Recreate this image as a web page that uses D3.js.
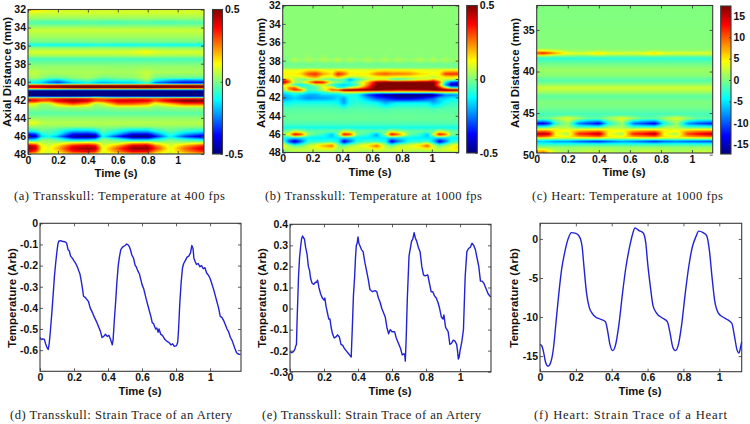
<!DOCTYPE html>
<html><head><meta charset="utf-8">
<style>html,body{margin:0;padding:0;background:#fff}svg{display:block}</style>
<script src="https://cdnjs.cloudflare.com/ajax/libs/d3/7.8.5/d3.min.js"></script>
</head><body>
<svg id="c" width="750" height="424"><defs><filter id="soft" x="-2%" y="-2%" width="104%" height="104%"><feGaussianBlur stdDeviation="0.55"/></filter></defs></svg>
<script>
// Heatmap A
const timesA=[0,.05,.09,.14,.2,.3,.4,.45,.5,.6,.7,.8,.85,.95,1.05,1.18];
const depthsA=[32,32.4,33,33.44,33.9,34.3,35,35.6,35.95,36.25,36.7,37.1,37.5,38.2,39,39.6,39.95,40.2,40.32,40.45,40.72,40.85,41,41.3,41.6,41.75,41.9,42.15,42.5,42.9,43.5,44,44.6,45,45.5,45.85,46.1,46.45,46.85,47.15,47.45,47.8,48];
const valuesA=[
[.17,.17,.14,.11,.1,.09,.09,.09,.09,.09,.09,.09,.09,.09,.09,.09],
[.085,.085,.08,.08,.08,.08,.08,.08,.08,.08,.08,.08,.08,.08,.08,.08],
[.025,.025,.025,.025,.025,.025,.025,.025,.025,.025,.025,.025,.025,.025,.025,.025],
[-.05,-.05,-.06,-.06,-.06,-.06,-.05,-.05,-.06,-.06,-.05,-.05,-.06,-.06,-.05,-.05],
[.02,.02,.02,.02,.02,.02,.02,.02,.02,.02,.02,.02,.02,.02,.02,.02],
[.075,.075,.075,.075,.075,.075,.075,.075,.075,.075,.075,.075,.075,.075,.075,.075],
[.035,.035,.035,.035,.035,.035,.035,.035,.035,.035,.035,.035,.035,.035,.035,.035],
[-.01,-.01,-.01,-.01,-.01,-.01,-.01,-.01,-.01,-.01,-.01,-.01,-.01,-.01,-.01,-.01],
[-.12,-.11,-.11,-.12,-.12,-.12,-.12,-.11,-.11,-.12,-.12,-.11,-.11,-.12,-.12,-.12],
[.01,.01,.01,.01,.01,.01,.01,.01,.01,.01,.01,.01,.01,.01,.01,.01],
[.09,.09,.09,.09,.09,.09,.09,.09,.09,.09,.1,.13,.1,.09,.09,.09],
[.045,.045,.045,.045,.045,.045,.045,.045,.045,.045,.05,.06,.05,.045,.045,.045],
[-.06,-.06,-.06,-.06,-.06,-.06,-.06,-.06,-.06,-.06,-.06,-.06,-.06,-.06,-.06,-.06],
[.01,.01,.01,.01,.01,.01,.01,.01,.01,.01,.01,.01,.01,.01,.01,.01],
[.05,.07,.045,.045,.045,.045,.045,.045,.045,.04,.04,.07,.045,.045,.045,.045],
[.02,.04,.01,-.02,-.02,.01,.03,.01,-.02,.0,.01,.06,-.02,-.03,-.03,-.03],
[-.08,-.08,-.12,-.2,-.25,-.1,-.05,-.1,-.14,-.1,-.1,.02,-.15,-.25,-.3,-.28],
[-.16,-.15,-.18,-.28,-.34,-.2,-.15,-.2,-.22,-.2,-.2,-.1,-.3,-.36,-.4,-.4],
[.1,.1,.1,.1,.1,.1,.1,.1,.1,.1,.1,.1,.1,.1,.1,.1],
[.45,.45,.46,.46,.48,.52,.56,.56,.52,.55,.56,.58,.55,.52,.52,.52],
[.38,.38,.4,.45,.45,.5,.55,.55,.5,.5,.52,.55,.5,.46,.46,.46],
[.02,.02,.02,.02,.02,.02,.02,.02,.02,.02,.02,.02,.02,.02,.02,.02],
[-.46,-.46,-.46,-.46,-.46,-.46,-.46,-.46,-.46,-.46,-.46,-.46,-.46,-.46,-.46,-.46],
[-.56,-.56,-.56,-.56,-.56,-.56,-.56,-.56,-.56,-.56,-.56,-.56,-.56,-.56,-.56,-.56],
[-.5,-.5,-.52,-.52,-.52,-.52,-.52,-.52,-.52,-.52,-.52,-.52,-.52,-.52,-.52,-.52],
[-.1,-.1,-.12,-.12,-.12,-.12,-.1,-.02,-.08,-.12,-.12,-.12,-.12,-.12,-.12,-.12],
[.32,.32,.3,.34,.34,.38,.36,.32,.28,.3,.32,.32,.3,.34,.36,.38],
[.38,.38,.32,.3,.42,.48,.42,.3,.32,.42,.42,.4,.3,.44,.52,.52],
[.14,.1,.02,.04,.18,.3,.2,.03,.08,.28,.28,.22,.08,.18,.3,.3],
[.03,.03,.01,.01,.025,.03,.03,.01,.01,.035,.035,.03,.01,.025,.03,.03],
[-.04,-.04,-.04,-.04,-.04,-.04,-.04,-.04,-.04,-.04,-.04,-.04,-.04,-.04,-.04,-.04],
[.01,.01,.01,.01,.01,.01,.01,.01,.01,.01,.01,.01,.01,.01,.01,.01],
[.11,.11,.065,.055,.055,.055,.055,.055,.055,.055,.055,.055,.055,.055,.055,.055],
[.03,.03,.02,.02,.02,.02,.02,.02,.02,.02,.02,.02,.02,.02,.02,.02],
[-.12,-.08,-.03,-.04,-.08,-.18,-.18,-.14,-.03,-.1,-.18,-.18,-.1,-.03,-.08,-.12],
[-.36,-.32,-.12,-.06,-.12,-.36,-.38,-.34,-.07,-.2,-.38,-.38,-.26,-.07,-.2,-.3],
[-.46,-.42,-.17,-.12,-.22,-.48,-.52,-.48,-.12,-.34,-.52,-.52,-.38,-.12,-.32,-.46],
[-.2,-.16,.0,.0,-.05,-.2,-.2,-.16,.02,-.06,-.2,-.2,-.12,-.02,-.08,-.16],
[.2,.16,.07,.05,.07,.16,.2,.16,.05,.07,.2,.22,.1,.05,.07,.14],
[.44,.4,.12,.08,.16,.36,.42,.38,.08,.22,.42,.44,.28,.08,.22,.36],
[.48,.42,.14,.1,.2,.42,.48,.44,.1,.3,.48,.48,.34,.1,.28,.44],
[.4,.3,.11,.09,.15,.34,.38,.32,.09,.24,.38,.36,.22,.09,.22,.34],
[.2,.16,.09,.07,.11,.2,.22,.18,.07,.14,.22,.22,.13,.07,.14,.2]];
// Heatmap B
const timesB=[0,.04,.08,.12,.17,.22,.27,.33,.37,.41,.45,.5,.57,.63,.69,.73,.77,.85,.92,.97,1.01,1.05,1.09,1.13,1.18];
const depthsB=[32,37.2,37.6,37.95,38.4,38.8,38.95,39.45,39.85,40.05,40.35,40.65,40.95,41.2,41.45,41.7,42.1,42.6,43.3,44.2,44.9,45.3,45.7,46.05,46.4,46.8,47.25,47.7,48];
const valuesB=[
[.01,.01,.01,.01,.01,.01,.01,.01,.01,.01,.01,.01,.01,.01,.01,.01,.01,.01,.01,.01,.01,.01,.01,.01,.01],
[.01,.01,.01,.01,.01,.01,.01,.01,.01,.01,.01,.01,.01,.01,.01,.01,.01,.01,.01,.01,.01,.01,.01,.01,.01],
[.0,.0,.02,.0,.03,.0,.03,.0,.02,.0,.02,.0,.02,.0,.02,.0,.02,.0,.02,.0,.02,.0,.02,.0,.02],
[.0,.01,.05,.02,.05,.02,.05,.03,.06,.02,.05,.02,.05,.02,.05,.02,.05,.02,.05,.02,.06,.02,.05,.02,.04],
[-.02,-.02,-.02,-.02,-.02,-.02,-.02,-.02,-.02,-.02,-.02,-.02,-.02,-.02,-.02,-.02,-.02,-.02,-.02,-.02,-.02,-.02,-.02,-.02,-.02],
[.0,.0,.0,.0,.0,.0,.0,.0,.0,.0,.0,.0,.0,.0,.0,.0,.0,.0,.0,.0,.0,.0,.0,.0,.0],
[.09,.09,.09,.09,.11,.11,.09,.09,.09,.09,.09,.09,.08,.08,.09,.09,.09,.09,.09,.09,.09,.09,.09,.09,.09],
[.14,.14,.14,.16,.3,.34,.22,.14,.36,.28,.14,.14,.14,.26,.3,.26,.26,.24,.16,.14,.12,.14,.32,.34,.34],
[.1,.08,.08,.08,.16,.22,.08,.1,.18,.08,.04,.04,.08,.1,.1,.1,.08,.08,.08,.08,.04,.1,.12,.12,.08],
[.3,.2,.03,-.02,-.02,0,-.02,-.08,-.05,-.05,-.25,-.1,.04,.08,.08,-.08,-.1,-.04,.08,.08,.2,.08,.08,.08,.04],
[.48,.3,.05,.04,.2,.42,.38,.08,.02,-.04,-.1,.04,.2,.45,.5,.5,.5,.5,.48,.5,.5,.3,-.1,-.3,-.35],
[.2,.05,-.07,-.14,-.07,.04,.1,-.08,-.14,-.18,-.14,-.04,.25,.52,.55,.58,.58,.58,.58,.58,.5,.2,-.2,-.45,-.45],
[0,.25,.3,.02,-.07,-.07,.1,.15,-.1,-.08,.05,.15,.35,.55,.6,.6,.6,.6,.6,.6,.55,.4,.15,-.1,-.1],
[-.05,.2,.35,.3,-.07,-.04,.05,.3,.3,.5,.52,.5,.5,.5,.45,.45,.4,.42,.42,.45,.5,.52,.55,.55,.52],
[-.12,-.08,-.04,.0,-.12,-.12,-.08,0,0,.08,.08,.08,.04,.0,.04,.04,.04,.04,.04,.04,.04,.08,.08,.08,.08],
[-.2,-.16,-.12,-.16,-.2,-.2,-.16,-.16,-.15,-.1,-.1,-.12,-.32,-.42,-.5,-.5,-.55,-.55,-.55,-.55,-.5,-.38,-.26,-.26,-.22],
[-.24,-.2,-.17,-.2,-.24,-.22,-.22,-.2,-.16,-.22,-.1,-.1,-.2,-.3,-.33,-.38,-.42,-.42,-.38,-.33,-.28,-.18,-.17,-.13,-.13],
[-.12,-.12,-.1,-.1,-.1,-.1,-.1,-.1,-.12,-.22,-.1,-.08,-.1,-.12,-.2,-.16,-.13,-.13,-.13,-.13,-.2,-.16,-.1,-.08,-.08],
[-.04,-.04,-.04,-.04,-.04,-.04,-.04,-.04,-.04,-.05,-.04,-.04,-.04,-.04,-.05,-.04,-.04,-.04,-.04,-.04,-.05,-.04,-.04,-.04,-.04],
[-.02,-.02,-.02,-.02,-.02,-.02,-.02,-.02,-.02,-.02,-.02,-.02,-.02,-.02,-.02,-.02,-.02,-.02,-.02,-.02,-.02,-.02,-.02,-.02,-.02],
[-.05,-.05,-.05,-.05,-.05,-.05,-.05,-.05,-.05,-.05,-.05,-.05,-.05,-.05,-.05,-.05,-.05,-.05,-.05,-.05,-.05,-.05,-.05,-.05,-.05],
[-.11,-.11,-.11,-.11,-.11,-.11,-.11,-.11,-.11,-.11,-.11,-.11,-.11,-.11,-.11,-.11,-.11,-.11,-.11,-.11,-.11,-.11,-.11,-.11,-.11],
[-.02,0,.08,.04,-.02,-.02,-.02,-.02,-.02,.08,.05,-.02,-.02,-.02,-.02,.08,.04,-.02,-.02,-.02,-.02,.08,.04,-.02,-.02],
[.04,.12,.42,.35,.02,-.04,-.08,-.2,-.02,.4,.35,-.02,-.08,-.22,.04,.42,.3,-.02,-.08,-.2,.08,.4,.3,.0,-.04],
[-.12,-.13,-.14,-.14,-.13,-.14,-.14,-.15,-.14,-.14,-.14,-.13,-.14,-.15,-.14,-.14,-.14,-.13,-.14,-.15,-.14,-.14,-.14,-.13,-.13],
[-.02,-.3,-.45,-.3,-.1,-.08,-.08,-.08,-.12,-.42,-.28,-.1,-.06,-.08,-.12,-.42,-.28,-.1,-.08,-.06,-.18,-.42,-.28,-.1,-.08],
[.16,.04,-.04,-.02,.06,.12,.2,.28,.02,-.04,.04,.08,.15,.28,.04,-.02,.06,.1,.17,.3,.08,-.02,.04,.1,.17],
[.02,.06,.08,.08,.08,.08,.08,.08,.04,.08,.1,.08,.06,.1,.08,.08,.1,.08,.06,.08,.08,.08,.1,.12,.15],
[-.02,.01,.02,.02,.02,.02,.02,.02,.01,.02,.02,.02,.02,.02,.02,.02,.02,.02,.02,.02,.02,.02,.02,.02,.02]];
// Heatmap C
const timesC=[0,.04,.08,.12,.2,.27,.33,.4,.46,.55,.62,.68,.76,.82,.9,.97,1.03,1.14];
const depthsC=[32,37.2,37.55,37.82,38.1,38.4,39,39.8,40.5,41.1,41.6,42,42.5,43,43.8,44.5,45.2,45.7,46.3,46.8,47.2,47.55,47.9,48.15,48.45,48.8,49.2,49.6,49.85];
const valuesC=[
[0,0,0,0,0,0,0,0,0,0,0,0,0,0,0,0,0,0],
[.2,.2,.2,.2,.2,.2,.2,.2,.2,.2,.2,.2,.2,.2,.2,.2,.2,.2],
[5,5,4,3,1.5,1,1,1.5,1,1,1,1,1.5,1,1,1,1,1],
[11,13,11,8,4,3.5,4,6,4,3.5,3.5,4,6,4,3.5,3.5,3.5,3.5],
[3,3,2,1,1,.5,.5,1,.5,.5,.5,.5,1,.5,.5,.5,.5,.5],
[-3,-3,-3,-3,-3,-3,-3,-3,-3,-3,-3,-3,-3,-3,-3,-3,-3,-3],
[-.8,-.8,-.8,-.8,-.8,-.8,-.8,-.8,-.8,-.8,-.8,-.8,-.8,-.8,-.8,-.8,-.8,-.8],
[1,1,1,1,1,1,1,1,1,1,1,1,1,1,1,1,1,1],
[.4,.4,.4,.4,.4,.4,.4,.4,.4,.4,.4,.4,.4,.4,.4,.4,.4,.4],
[-1.6,-1.6,-1.6,-1.6,-1.6,-1.6,-1.6,-1.6,-1.6,-1.6,-1.6,-1.6,-1.6,-1.6,-1.6,-1.6,-1.6,-1.6],
[.5,.5,.5,.5,.5,.5,.5,.5,.5,.5,.5,.5,.5,.5,.5,.5,.5,.5],
[2.8,2.8,2.8,2.8,2.8,2.8,2.8,2.8,2.8,2.8,2.8,2.8,2.8,2.8,2.8,2.8,2.8,2.8],
[1.2,1.2,1.2,1.2,1.2,1.2,1.2,1.2,1.2,1.2,1.2,1.2,1.2,1.2,1.2,1.2,1.2,1.2],
[-1.2,-1.2,-1.2,-1.2,-1.2,-1.2,-1.2,-1.2,-1.2,-1.2,-1.2,-1.2,-1.2,-1.2,-1.2,-1.2,-1.2,-1.2],
[.1,.1,.1,.1,.1,.1,.1,.1,.1,.1,.1,.1,.1,.1,.1,.1,.1,.1],
[-.5,-.5,-.5,-.5,-.5,-.5,-.5,-.5,-.5,-.5,-.5,-.5,-.5,-.5,-.5,-.5,-.5,-.5],
[-2,-2,-2,-2,-2,-2,-2,-2,-2,-2,-2,-2,-2,-2,-2,-2,-2,-2],
[-.5,-.5,-.5,1,3.5,1,-1,-1,1,3.5,1,-1,-1,1,3.5,1,-1,-1],
[-13,-14,-11,-3,1,-9,-11,-13.5,-4,1,-9,-11,-13.5,-4,1,-8,-10,-12.5],
[-1,-1,0,2,1.5,-1,-1,-1,1.5,1.5,-1,-1,-1,1.5,1.5,-1,-1,-1],
[8,9,8,5,4.5,7,8,8.5,5,4.5,7,8,8.5,5,4.5,7,8,8.5],
[15,16,14,4,1,12,13,16,4,1,12,13,16,4,1,11,13,16],
[9,9.5,8,5,4.5,7,8,9,5,4.5,7,8,9,5,4.5,7,8,9],
[.8,.8,.8,.8,.8,.8,.8,.8,.8,.8,.8,.8,.8,.8,.8,.8,.8,.8],
[-7,-6,-7,-8,-8,-10,-11,-12,-10,-8,-9,-10,-12,-10,-9,-10,-10,-11],
[-3,-3,-3,-3,-3,-3,-3,-3,-3,-3,-3,-3,-3,-3,-3,-3,-3,-3],
[1,1,1,1,1,1,1,1,1,1,1,1,1,1,1,1,1,1],
[5,7,4,2,1,1.5,2,2,2,1,1.5,2,2,2,1,1.5,2,2],
[7,10,5,3,2,2,3,3,2,2,2,3,3,2,2,2,3,3]];
// Traces
const timeD=[0,.008,.016,.025,.033,.04,.048,.054,.06,.066,.07,.078,.085,.092,.1,.105,.11,.12,.13,.145,.155,.16,.165,.172,.18,.19,.2,.21,.22,.228,.235,.242,.25,.256,.265,.275,.285,.295,.31,.32,.335,.345,.355,.365,.375,.385,.395,.405,.415,.425,.43,.437,.445,.452,.46,.467,.475,.483,.49,.5,.51,.518,.525,.532,.54,.55,.56,.566,.575,.585,.6,.61,.625,.635,.645,.652,.66,.668,.68,.687,.695,.7,.71,.72,.735,.75,.76,.77,.78,.79,.8,.805,.81,.815,.822,.83,.838,.845,.855,.865,.875,.885,.893,.9,.905,.912,.92,.93,.94,.95,.96,.97,.98,.99,1,1.01,1.02,1.03,1.04,1.05,1.06,1.07,1.08,1.09,1.1,1.11,1.12,1.13,1.145,1.155,1.16,1.17,1.18];
const tempD=[-.54,-.55,-.547,-.548,-.57,-.585,-.597,-.57,-.52,-.46,-.42,-.33,-.25,-.19,-.13,-.1,-.085,-.082,-.085,-.087,-.092,-.105,-.125,-.13,-.155,-.165,-.178,-.19,-.207,-.225,-.24,-.27,-.31,-.345,-.35,-.36,-.37,-.4,-.425,-.445,-.47,-.49,-.51,-.54,-.535,-.525,-.535,-.53,-.55,-.575,-.55,-.46,-.37,-.28,-.2,-.16,-.125,-.115,-.11,-.105,-.098,-.102,-.11,-.125,-.15,-.165,-.2,-.205,-.225,-.24,-.29,-.31,-.36,-.39,-.42,-.44,-.47,-.475,-.5,-.495,-.515,-.5,-.525,-.53,-.55,-.56,-.565,-.575,-.57,-.582,-.58,-.575,-.56,-.5,-.38,-.28,-.21,-.19,-.175,-.16,-.155,-.14,-.105,-.12,-.165,-.18,-.195,-.19,-.205,-.2,-.215,-.21,-.235,-.245,-.26,-.285,-.31,-.34,-.37,-.4,-.44,-.445,-.46,-.48,-.5,-.515,-.54,-.555,-.59,-.61,-.615,-.62,-.62];
const timeE=[0,.01,.02,.028,.033,.038,.042,.05,.056,.062,.068,.074,.08,.085,.092,.1,.108,.115,.122,.13,.14,.15,.157,.162,.17,.18,.19,.2,.205,.212,.22,.228,.235,.242,.25,.26,.27,.28,.29,.3,.31,.32,.33,.34,.35,.36,.367,.373,.38,.385,.39,.395,.4,.405,.41,.42,.43,.44,.45,.46,.47,.485,.5,.51,.52,.53,.54,.55,.56,.57,.58,.59,.6,.615,.625,.64,.65,.66,.67,.675,.678,.683,.69,.7,.715,.722,.73,.737,.745,.755,.765,.775,.785,.795,.81,.82,.83,.84,.85,.86,.87,.88,.89,.9,.905,.915,.93,.94,.95,.96,.97,.98,.985,.99,.995,1,1.01,1.02,1.03,1.04,1.05,1.06,1.07,1.08,1.09,1.1,1.11,1.12,1.13,1.14,1.15,1.165,1.18];
const tempE=[-.205,-.21,-.205,-.195,-.18,-.17,-.05,.15,.24,.29,.33,.345,.335,.33,.29,.26,.2,.18,.14,.12,.115,.125,.125,.135,.1,.07,.05,.04,.05,.01,-.02,-.05,-.05,-.09,-.12,-.14,-.135,-.125,-.135,-.17,-.175,-.19,-.2,-.21,-.22,-.23,-.08,.06,.15,.24,.3,.31,.34,.31,.3,.28,.27,.22,.18,.14,.09,.08,.085,.08,.05,.03,0,-.02,-.04,-.09,-.12,-.1,-.11,-.11,-.14,-.17,-.19,-.22,-.215,-.22,-.25,-.15,.05,.25,.32,.33,.36,.335,.32,.29,.27,.2,.16,.155,.16,.12,.08,.08,.06,.05,.03,0,-.04,-.05,-.03,-.09,-.11,-.17,-.165,-.15,-.155,-.17,-.2,-.24,-.23,-.2,-.16,-.1,.15,.27,.285,.29,.31,.3,.28,.24,.2,.13,.13,.12,.1,.07,.055,.05];
const timeF=[0,.01,.02,.03,.045,.06,.075,.09,.105,.12,.14,.16,.175,.2,.22,.235,.245,.26,.275,.29,.31,.34,.365,.375,.39,.405,.42,.44,.46,.48,.5,.515,.53,.55,.575,.59,.6,.615,.63,.65,.68,.71,.725,.74,.755,.77,.79,.81,.83,.85,.87,.885,.91,.93,.945,.96,.975,.995,1.02,1.05,1.07,1.085,1.1,1.11,1.12,1.125];
const tempF=[-13.5,-13.7,-14.5,-15.7,-16.3,-15.8,-14,-10.5,-7,-4,-1.5,.2,.8,.7,.3,-1,-3.5,-7,-8.8,-9.5,-10,-10.3,-10.6,-11.5,-13.5,-14.3,-13.7,-11,-7,-3.5,-1,.5,1.4,1.1,.8,-.5,-3,-6,-8.5,-9.5,-10.1,-10.6,-12,-13.8,-14.3,-13.7,-11,-7,-3.5,-1,.3,1,.8,.4,-1.5,-5,-8,-9.5,-10,-10.4,-10.8,-12.5,-14.3,-14.6,-13.7,-13.2];
// Ticks and text
const timeTicks=[0,.2,.4,.6,.8,1];
const depthTicksAB=[32,34,36,38,40,42,44,46,48];
const depthTicksC=[35,40,45,50];
const barTicksAB=[-.5,0,.5];
const barTicksC=[-15,-10,-5,0,5,10,15];
const tempTicksD=[0,-.1,-.2,-.3,-.4,-.5,-.6];
const tempTicksE=[.4,.3,.2,.1,0,-.1,-.2,-.3];
const tempTicksF=[0,-5,-10,-15];
const captions=["(a) Transskull: Temperature at 400 fps","(b) Transskull: Temperature at 1000 fps","(c) Heart: Temperature at 1000 fps","(d) Transskull: Strain Trace of an Artery","(e) Transskull: Strain Trace of an Artery","(f) Heart: Strain Trace of a Heart"];

const svg=d3.select("#c");
const SANS="'Liberation Sans',Arial,sans-serif";
const jet=d3.scaleLinear().domain([0,.125,.375,.625,.875,1])
  .range(["#000080","#0000ff","#00ffff","#ffff00","#ff0000","#800000"]).clamp(true);
const fmt=v=>String(+v.toFixed(2));

function sample(ts,ds,vals,t,d){
  const i=Math.max(0,Math.min(ts.length-2,d3.bisectRight(ts,t)-1));
  const j=Math.max(0,Math.min(ds.length-2,d3.bisectRight(ds,d)-1));
  const u=Math.max(0,Math.min(1,(t-ts[i])/(ts[i+1]-ts[i])));
  const w=Math.max(0,Math.min(1,(d-ds[j])/(ds[j+1]-ds[j])));
  return (vals[j][i]*(1-u)+vals[j][i+1]*u)*(1-w)+(vals[j+1][i]*(1-u)+vals[j+1][i+1]*u)*w;
}
function raster(g,box,color,soft){
  const W=Math.round(box.x1-box.x0),H=Math.round(box.y1-box.y0);
  const cv=document.createElement("canvas");cv.width=W;cv.height=H;
  const ctx=cv.getContext("2d");
  for(let y=0;y<H;y++)for(let x=0;x<W;x++){ctx.fillStyle=color(x+.5,y+.5);ctx.fillRect(x,y,1,1);}
  const im=g.append("image").attr("x",box.x0).attr("y",box.y0).attr("width",box.x1-box.x0).attr("height",box.y1-box.y0)
   .attr("preserveAspectRatio","none").attr("href",cv.toDataURL());
  if(soft)im.attr("filter","url(#soft)");
}
function styleAxis(sel){
  sel.select(".domain").remove();
  sel.selectAll("line").attr("stroke","#333").attr("stroke-width",.8);
  sel.selectAll("text").attr("fill","#111").attr("font-family",SANS).attr("font-weight","bold").attr("font-size",10.5);
}
function frame(g,b){
  g.append("rect").attr("x",b.x0).attr("y",b.y0).attr("width",b.x1-b.x0).attr("height",b.y1-b.y0)
   .attr("fill","none").attr("stroke","#3a3a3a").attr("stroke-width",1.1);
}
function axes(g,b,x,y,xt,yt){
  const tl=3;
  g.append("g").attr("transform",`translate(0,${b.y1})`).call(d3.axisBottom(x).tickValues(xt).tickFormat(fmt).tickSizeInner(-tl).tickSizeOuter(0).tickPadding(2.2)).call(styleAxis);
  g.append("g").attr("transform",`translate(0,${b.y0})`).call(d3.axisTop(x).tickValues(xt).tickFormat("").tickSizeInner(-tl).tickSizeOuter(0)).call(styleAxis);
  g.append("g").attr("transform",`translate(${b.x0},0)`).call(d3.axisLeft(y).tickValues(yt).tickFormat(fmt).tickSizeInner(-tl).tickSizeOuter(0).tickPadding(2)).call(styleAxis);
  g.append("g").attr("transform",`translate(${b.x1},0)`).call(d3.axisRight(y).tickValues(yt).tickFormat("").tickSizeInner(-tl).tickSizeOuter(0)).call(styleAxis);
}
function labels(g,xl,xy,yx,yy,yText){
  g.append("text").attr("x",xl).attr("y",xy).attr("text-anchor","middle").attr("font-family",SANS).attr("font-weight","bold").attr("font-size",11.3).attr("fill","#111").text("Time (s)");
  g.append("text").attr("transform",`translate(${yx},${yy}) rotate(-90)`).attr("text-anchor","middle").attr("font-family",SANS).attr("font-weight","bold").attr("font-size",11.5).attr("fill","#111").text(yText);
}
function caption(i,x0,x1,y){
  svg.append("text").attr("x",x0).attr("y",y).attr("font-family","'Liberation Serif',serif").attr("font-size",12.6).attr("fill","#222")
   .attr("textLength",x1-x0).attr("lengthAdjust","spacing").text(captions[i]);
}
function heat(o){
  const g=svg.append("g"),b=o.box;
  const x=d3.scaleLinear().domain([0,o.tMax]).range([b.x0,b.x1]);
  const y=d3.scaleLinear().domain(o.dDomain).range([b.y0,b.y1]);
  const n=d3.scaleLinear().domain(o.bar).range([0,1]);
  raster(g,b,(px,py)=>jet(n(sample(o.ts,o.ds,o.vals,x.invert(b.x0+px),y.invert(b.y0+py)))),true);
  frame(g,b);
  axes(g,b,x,y,timeTicks,o.dTicks);
  const c=o.cbox,cy=d3.scaleLinear().domain(o.bar).range([c.y1,c.y0]);
  raster(g,c,(px,py)=>jet(n(cy.invert(c.y0+py))),false);
  frame(g,c);
  g.append("g").attr("transform",`translate(${c.x1},0)`).call(d3.axisRight(cy).tickValues(o.bTicks).tickFormat(fmt).tickSizeInner(-2).tickSizeOuter(0).tickPadding(2.5)).call(styleAxis);
  labels(g,o.xl[0],o.xl[1],o.yl[0],o.yl[1],"Axial Distance (mm)");
}
function trace(o){
  const g=svg.append("g"),b=o.box;
  const x=d3.scaleLinear().domain([0,o.tMax]).range([b.x0,b.x1]);
  const y=d3.scaleLinear().domain(o.vDomain).range([b.y1,b.y0]);
  const line=d3.line().x(d=>x(d[0])).y(d=>y(d[1])).curve(o.curve||d3.curveLinear);
  g.append("path").datum(d3.zip(o.t,o.v)).attr("fill","none").attr("stroke","#2222d4").attr("stroke-width",1.4).attr("stroke-linejoin","round").attr("d",line);
  frame(g,b);
  axes(g,b,x,y,timeTicks,o.vTicks);
  labels(g,o.xl[0],o.xl[1],o.yl[0],o.yl[1],"Temperature (Arb)");
}
heat({box:{x0:28,x1:204,y0:9.5,y1:154},cbox:{x0:212.5,x1:222.5,y0:9.5,y1:154},tMax:1.176,dDomain:[32,48],ts:timesA,ds:depthsA,vals:valuesA,bar:[-.5,.5],bTicks:barTicksAB,dTicks:depthTicksAB,xl:[116,177],yl:[11,72]});
heat({box:{x0:282.7,x1:458.7,y0:5.5,y1:152.5},cbox:{x0:466.7,x1:477.3,y0:5.5,y1:153},tMax:1.18,dDomain:[32,48],ts:timesB,ds:depthsB,vals:valuesB,bar:[-.5,.5],bTicks:barTicksAB,dTicks:depthTicksAB,xl:[370,176],yl:[265,73]});
heat({box:{x0:536.7,x1:712.7,y0:5.5,y1:153},cbox:{x0:720.7,x1:731,y0:6,y1:154},tMax:1.133,dDomain:[32.06,49.8],ts:timesC,ds:depthsC,vals:valuesC,bar:[-17.3,17.3],bTicks:barTicksC,dTicks:depthTicksC,xl:[624,176],yl:[519,73]});
trace({box:{x0:40,x1:241,y0:223.3,y1:371.3},tMax:1.182,vDomain:[-.7,0],t:timeD,v:tempD,vTicks:tempTicksD,xl:[140,395],yl:[16,298]});
trace({box:{x0:290,x1:491,y0:224.3,y1:371.7},tMax:1.182,vDomain:[-.3,.4],t:timeE,v:tempE,vTicks:tempTicksE,xl:[390,395],yl:[266,298]});
trace({box:{x0:540,x1:741.7,y0:223.3,y1:371.7},tMax:1.125,vDomain:[-17,2],t:timeF,v:tempF,vTicks:tempTicksF,xl:[640,395],yl:[518,298],curve:d3.curveMonotoneX});
caption(0,14,225,200);caption(1,265,482,200);caption(2,532,723,200);
caption(3,10,232,419);caption(4,262,481,419);caption(5,534,727,419);
</script>
</body></html>
